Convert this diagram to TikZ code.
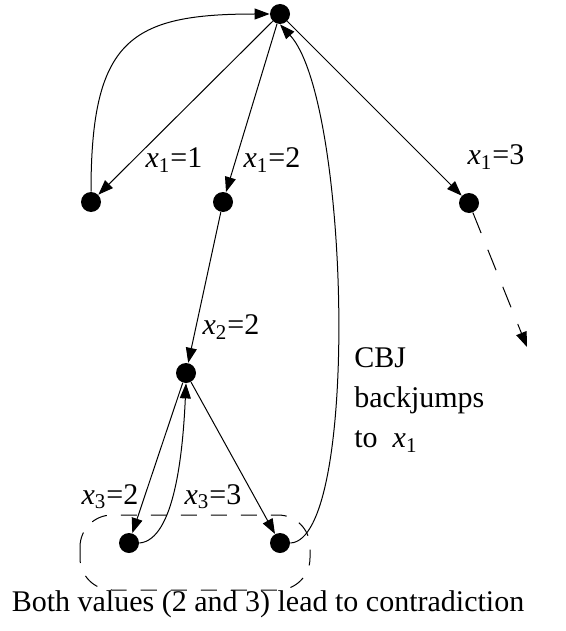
\documentclass[tikz,border=0pt]{standalone}
\usepackage{fontspec}
\setmainfont{Liberation Serif}
\usetikzlibrary{arrows.meta}
\tikzset{
  vtx/.style={circle, fill, inner sep=0pt, minimum size=10pt},
  edge/.style={-{Triangle[length=7.5pt,width=5.5pt]}, line width=0.5pt},
  lbl/.style={font=\fontsize{15}{20}\selectfont, inner sep=0pt},
  loop/.style={line width=0.5pt, dash pattern=on 8pt off 7pt, rounded corners=16pt},
}
\newcommand{\xval}[2]{\textit{x}\textsubscript{#1}=#2}

\begin{document}
\begin{tikzpicture}[x=0.5pt,y=-0.5pt]
  \useasboundingbox (0,0) rectangle (566,631);
  % search tree
  \node[vtx] (root) at (280,14) {};
  \node[vtx] (v11) at (91,202) {};
  \node[vtx] (v12) at (223,202) {};
  \node[vtx] (v13) at (469,203) {};
  \node[vtx] (v22) at (186,373) {};
  \node[vtx] (v32) at (129,543) {};
  \node[vtx] (v33) at (280,543) {};
  \coordinate (tail) at (527,347);
  % branches
  \draw[edge] (root) -- (v11);
  \draw[edge] (root) -- (v12);
  \draw[edge] (root) -- (v13);
  \draw[edge, dash pattern=on 11pt off 9pt] (v13) -- (tail);
  \draw[edge] (v12) -- (v22);
  \draw[edge] (v22) -- (v32);
  \draw[edge] (v22) -- (v33);
  % backtracks
  \draw[edge] (v11.north) .. controls (91,40) and (130,14) .. (root.west);
  \draw[edge] (v32.east) .. controls (175,540) and (183,450) .. (v22.south);
  \draw[edge] (v33.east) .. controls (360,540) and (350,100) .. (root.south);
  % labels
  \node[lbl] (l11) at (174,160) {\xval{1}{1}};
  \node[lbl] (l12) at (272,160) {\xval{1}{2}};
  \node[lbl] (l13) at (496,157) {\xval{1}{3}};
  \node[lbl] (l22) at (231,327) {\xval{2}{2}};
  \node[lbl] (l32) at (110,497) {\xval{3}{2}};
  \node[lbl] (l33) at (213,497) {\xval{3}{3}};
  \node[lbl, align=left, anchor=west] (cbj) at (354,400) {CBJ\\backjumps\\to \ \textit{x}\textsubscript{1}};
  % conflict set
  \draw[loop] (80,515) rectangle (310,590);
  \node[lbl] (note) at (268,604) {Both values (2 and 3) lead to contradiction};
\end{tikzpicture}
\end{document}
